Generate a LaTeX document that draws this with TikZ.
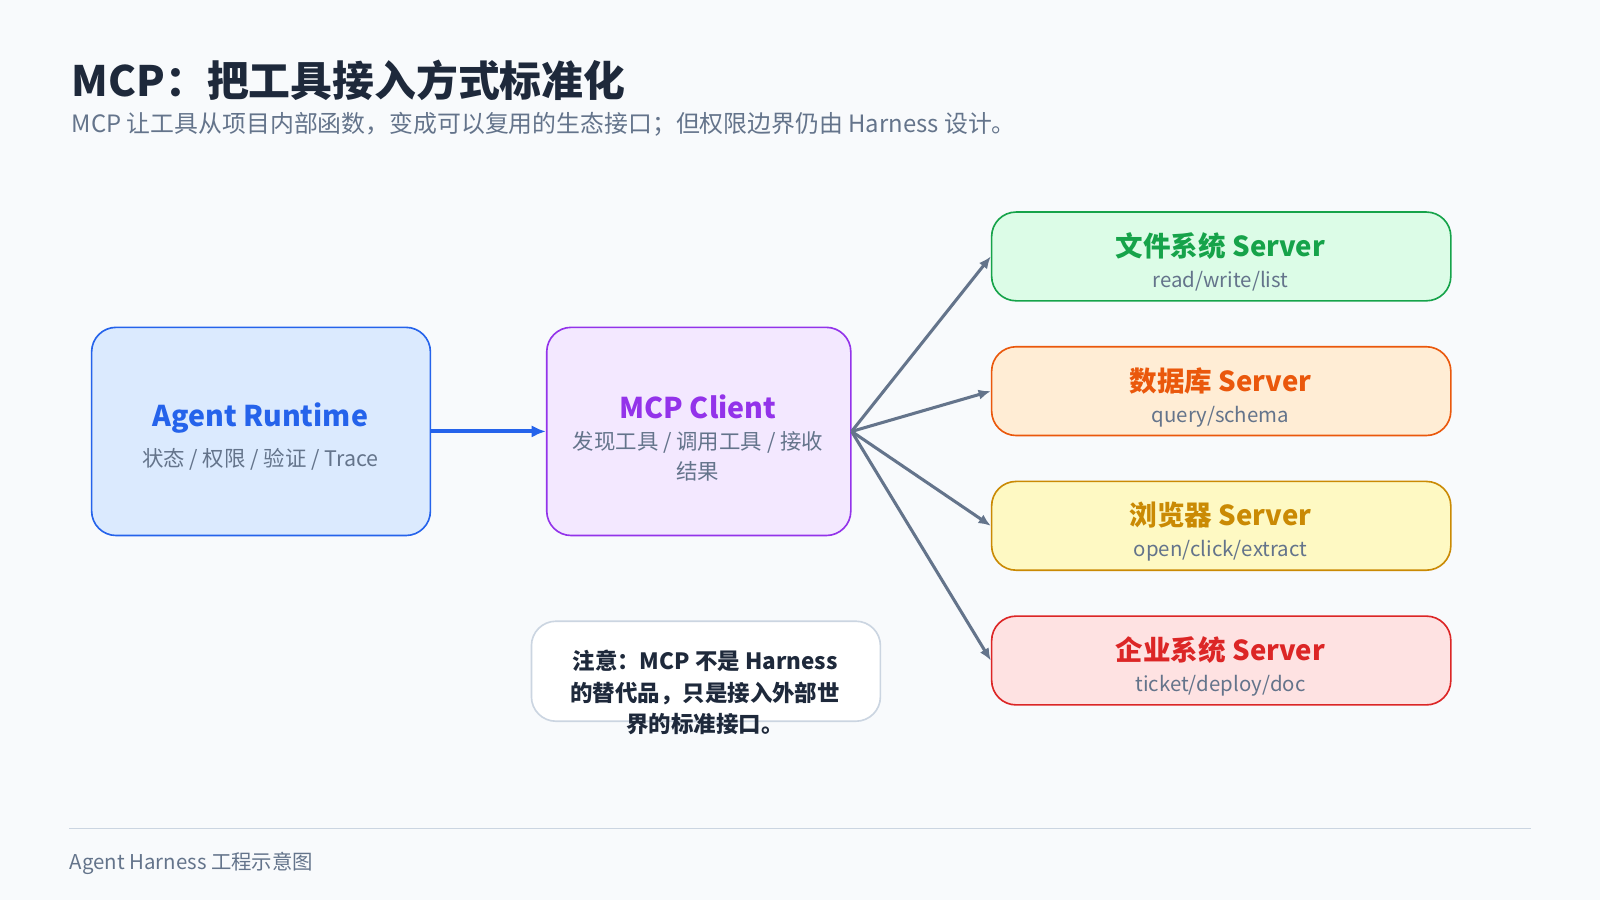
\documentclass[tikz,border=0pt]{standalone}
\usepackage{fontspec}
\setmainfont{Noto Sans CJK SC}
\usetikzlibrary{arrows.meta}
\definecolor{bgc}{HTML}{F8FAFC}
\definecolor{ink}{HTML}{1E293B}
\definecolor{muted}{HTML}{64748B}
\definecolor{rulec}{HTML}{CBD5E1}
\definecolor{blu}{HTML}{2563EB}\definecolor{blufill}{HTML}{DBEAFE}
\definecolor{pur}{HTML}{9333EA}\definecolor{purfill}{HTML}{F3E8FF}
\definecolor{grn}{HTML}{16A34A}\definecolor{grnfill}{HTML}{DCFCE7}
\definecolor{org}{HTML}{EA580C}\definecolor{orgfill}{HTML}{FFEDD5}
\definecolor{yel}{HTML}{CA8A04}\definecolor{yelfill}{HTML}{FEF9C3}
\definecolor{rd}{HTML}{DC2626}\definecolor{rdfill}{HTML}{FEE2E2}
\tikzset{
  box/.style={draw=#1, line width=0.8pt, rounded corners=12pt, anchor=north west},
  boxtitle/.style={font=\bfseries\fontsize{14}{16}\selectfont, text=#1},
  boxsub/.style={font=\fontsize{10.5}{14.5}\selectfont, text=muted, align=center},
  link/.style={draw=muted, line width=1.5pt, -{Latex[length=6pt,width=5pt]}},
}
\begin{document}
\begin{tikzpicture}[x=0.5pt,y=-0.5pt]
\fill[bgc] (0,0) rectangle (1568,882);
\useasboundingbox (0,0) rectangle (1568,882);
% heading
\node[anchor=base west, inner sep=0, text=ink, font=\bfseries\fontsize{20.5}{24}\selectfont] (title) at (70,95) {MCP：把工具接入方式标准化};
\node[anchor=base west, inner sep=0, text=muted, font=\fontsize{11.7}{14}\selectfont] (subtitle) at (70,130) {MCP 让工具从项目内部函数，变成可以复用的生态接口；但权限边界仍由 Harness 设计。};
% main boxes
\node[box=blu, fill=blufill, minimum width=332*0.5pt, minimum height=204*0.5pt] (agent) at (89,320) {};
\node[boxtitle=blu] at (255,410) {Agent Runtime};
\node[boxsub] at (255,450) {状态 / 权限 / 验证 / Trace};
\node[box=pur, fill=purfill, minimum width=298*0.5pt, minimum height=204*0.5pt] (client) at (535,320) {};
\node[boxtitle=pur] at (684,399) {MCP Client};
\node[boxsub] at (684,447) {发现工具 / 调用工具 / 接收\\结果};
% servers
\foreach \name/\col/\y/\lbl/\ops in {fs/grn/207/文件系统/read\slash write\slash list,
  db/org/339/数据库/query\slash schema,
  web/yel/471/浏览器/open\slash click\slash extract,
  ent/rd/603/企业系统/ticket\slash deploy\slash doc}{
  \node[box=\col, fill=\col fill, minimum width=450*0.5pt, minimum height=87*0.5pt] (\name) at (971,\y) {};
  \node[boxtitle=\col, font=\bfseries\fontsize{13.5}{16}\selectfont] at (1196,\y+34) {\lbl{} Server};
  \node[boxsub, font=\fontsize{10}{12}\selectfont] at (1196,\y+69) {\ops};
}
% note
\node[box=rulec, fill=white, minimum width=342*0.5pt, minimum height=98*0.5pt] (note) at (520,608) {};
\node[text=ink, font=\bfseries\fontsize{11}{15.5}\selectfont, align=center, anchor=north] at (691,630) {注意：MCP 不是 Harness\\的替代品，只是接入外部世\\界的标准接口。};
% connectors
\draw[blu, line width=2pt, -{Latex[length=7pt,width=6pt]}] (agent.east) -- (client.west);
\foreach \name in {fs,db,web,ent}
  \draw[link] (client.east) -- (\name.west);
% footer
\draw[rulec, line width=0.6pt] (68,812) -- (1500,812);
\node[anchor=base west, inner sep=0, text=muted, font=\fontsize{10}{12}\selectfont] (footer) at (68,852) {Agent Harness 工程示意图};
\end{tikzpicture}
\end{document}
